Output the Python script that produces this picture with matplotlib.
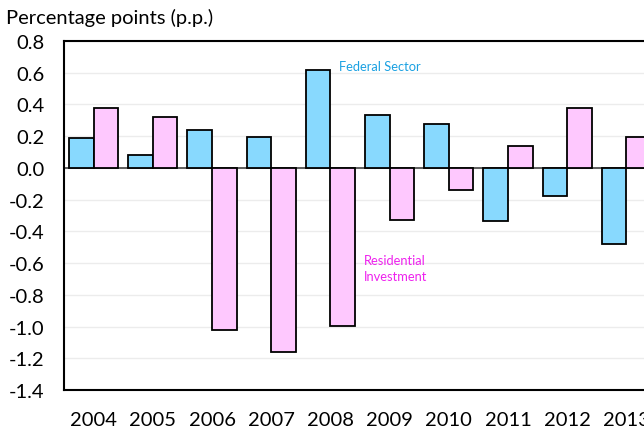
import matplotlib
matplotlib.use("Agg")
import matplotlib.pyplot as plt
import numpy as np

years = ["2004", "2005", "2006", "2007", "2008", "2009", "2010", "2011", "2012", "2013"]
federal = [0.187, 0.08, 0.24, 0.193, 0.62, 0.334, 0.277, -0.334, -0.18, -0.479]
residential = [0.38, 0.32, -1.02, -1.162, -0.998, -0.328, -0.137, 0.137, 0.38, 0.197]
yticks = [0.8, 0.6, 0.4, 0.2, 0.0, -0.2, -0.4, -0.6, -0.8, -1.0, -1.2, -1.4]

plt.rcParams['font.family'] = ['Lato', 'DejaVu Sans']

fig = plt.figure(figsize=(6.44, 4.31), dpi=100)
W, H = 644, 431
left, right, top, bottom = 64, 656, 42, 391
ax = fig.add_axes([left / W, (H - bottom) / H, (right - left) / W, (bottom - top) / H])

x = np.arange(len(years))
w = 0.415
ax.set_axisbelow(True)
ax.yaxis.grid(True, color='#ececec', linewidth=1.0)
ax.bar(x - w / 2, federal, width=w, color='#88D9FE', edgecolor='black', linewidth=1.3, zorder=3)
ax.bar(x + w / 2, residential, width=w, color='#FEC8FE', edgecolor='black', linewidth=1.3, zorder=3)
ax.axhline(0, color='#444444', linewidth=1.2, zorder=2)

ax.set_xlim(-0.5, len(years) - 0.5)
ax.set_ylim(-1.4, 0.8)
ax.set_yticks(yticks)
ax.set_yticklabels([f"{v:.1f}" for v in yticks], fontsize=14.5)
ax.set_xticks(x)
ax.set_xticklabels(years, fontsize=14.5)
ax.tick_params(axis='both', length=0)
ax.tick_params(axis='y', pad=14)
ax.tick_params(axis='x', pad=15)
for s in ['left', 'top', 'bottom']:
    ax.spines[s].set_linewidth(1.5)
    ax.spines[s].set_color('black')
ax.spines['right'].set_visible(False)

ax.text(4.14, 0.645, "Federal Sector", color='#1BA1E2', fontsize=9.3, ha='left', va='center')
ax.text(4.57, -0.63, "Residential\nInvestment", color='#EE22EE', fontsize=9.3, ha='left', va='center',
        linespacing=1.45)

fig.text(6 / W, 1 - 18 / H, "Percentage points (p.p.)", fontsize=14.5, ha='left', va='center')

fig.savefig("out.png", dpi=100)
